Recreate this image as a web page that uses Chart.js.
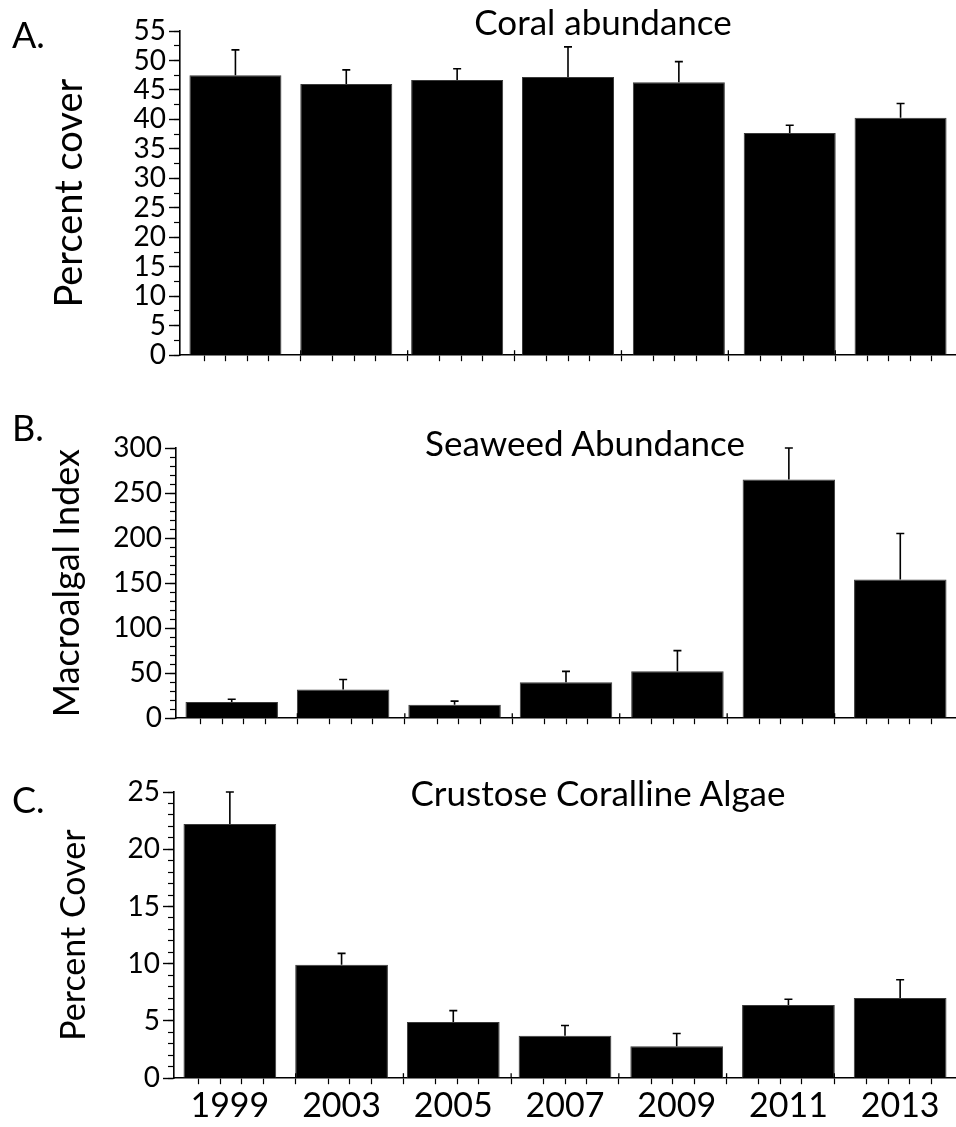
<!DOCTYPE html>
<html>
<head>
<meta charset="utf-8">
<script src="https://cdn.jsdelivr.net/npm/chart.js@4.4.1/dist/chart.umd.min.js"></script>
<style>
  body { margin: 0; background: #fff; }
  #page { position: relative; width: 956px; height: 1127px; overflow: hidden; font-family: Lato, "Open Sans", sans-serif; color: #000; }
  #page canvas { position: absolute; left: 0; }
  .tag { position: absolute; left: 12px; font-size: 36px; line-height: 36px; }
  .ttl { position: absolute; font-size: 35px; line-height: 35px; transform: translateX(-50%); white-space: nowrap; }
</style>
</head>
<body>
<div id="page">
  <canvas id="coral" width="956" height="375" style="top:0"></canvas>
  <canvas id="seaweed" width="956" height="363" style="top:375px"></canvas>
  <canvas id="cca" width="956" height="389" style="top:738px"></canvas>

  <div class="tag" style="top:16px">A.</div>
  <div class="tag" style="top:409px">B.</div>
  <div class="tag" style="top:781px">C.</div>

  <div class="ttl" style="left:603px; top:4px">Coral abundance</div>
  <div class="ttl" style="left:585px; top:425px">Seaweed Abundance</div>
  <div class="ttl" style="left:598px; top:775px">Crustose Coralline Algae</div>
</div>

<script>
const years = ['1999', '2003', '2005', '2007', '2009', '2011', '2013'];

// means and standard errors
const coralCover = [47.5, 46.0, 46.7, 47.2, 46.3, 37.7, 40.3];
const coralSE = [4.3, 2.4, 1.9, 5.1, 3.5, 1.3, 2.4];
const seaweedIndex = [18, 32, 15, 40, 52, 265, 154];
const seaweedSE = [3, 11, 4, 12, 23, 35, 51];
const ccaCover = [22.2, 9.9, 4.9, 3.7, 2.8, 6.4, 7.0];
const ccaSE = [2.8, 1.0, 1.0, 0.9, 1.1, 0.5, 1.6];

// y axis: [max, labelled step, minor step]
const coralAxis = [55, 5, 2.5];
const seaweedAxis = [300, 50, 10];
const ccaAxis = [25, 5, 1];

// small x ticks inside each category
const xMinor = years.flatMap((_, i) => [-0.3, -0.1, 0.1, 0.3].map(d => i + d));

// upper error whisker with a short cap, plus little upward ticks between categories
const errorBars = {
    id: 'errorBars',
    afterDatasetsDraw(chart, args, opts) {
        const meta = chart.getDatasetMeta(0);
        const y = chart.scales.y;
        const xt = chart.scales.xt;
        const vals = chart.data.datasets[0].data;
        const ctx = chart.ctx;
        ctx.save();
        ctx.strokeStyle = '#000';
        ctx.lineWidth = 1.6;
        meta.data.forEach((bar, i) => {
            const top = y.getPixelForValue(vals[i] + opts.se[i]);
            ctx.beginPath();
            ctx.moveTo(bar.x, bar.y);
            ctx.lineTo(bar.x, top);
            ctx.moveTo(bar.x - 4, top);
            ctx.lineTo(bar.x + 4, top);
            ctx.stroke();
        });
        ctx.lineWidth = 1.3;
        const base = chart.chartArea.bottom;
        for (let i = 0; i < vals.length - 1; i++) {
            const px = xt.getPixelForValue(i + 0.5);
            ctx.beginPath();
            ctx.moveTo(px, base);
            ctx.lineTo(px, base - 5);
            ctx.stroke();
        }
        ctx.restore();
    }
};

function makePanel(id, values, se, axis, yTitle, titleSize, titlePad, pad, axisWidth, showYears) {
    const [yMax, major, minor] = axis;
    return new Chart(document.getElementById(id), {
        type: 'bar',
        data: {
            labels: years,
            datasets: [{
                data: values,
                backgroundColor: '#000',
                borderColor: '#3a3a3a',
                borderWidth: 1,
                barPercentage: 0.83,
                categoryPercentage: 1
            }]
        },
        options: {
            responsive: false,
            animation: false,
            layout: { padding: { top: pad[0], bottom: pad[1], left: 0, right: 0 } },
            plugins: {
                legend: { display: false },
                tooltip: { enabled: false },
                errorBars: { se: se }
            },
            scales: {
                x: {
                    display: showYears,
                    weight: 1,
                    grid: { display: false, drawTicks: false },
                    border: { display: false },
                    ticks: { color: '#000', font: { family: 'Lato', size: 34 }, padding: 1, maxRotation: 0 }
                },
                xt: {
                    type: 'linear',
                    position: 'bottom',
                    weight: 0,
                    min: -0.5,
                    max: 6.5,
                    afterBuildTicks: s => { s.ticks = xMinor.map(v => ({ value: v })); },
                    ticks: { display: false },
                    grid: { drawOnChartArea: false, tickLength: 6, color: '#000', tickWidth: 1.2 },
                    border: { color: '#000', width: 1.6 }
                },
                y: {
                    min: 0,
                    max: yMax,
                    weight: 1,
                    afterFit: s => { s.width = axisWidth; },
                    ticks: { stepSize: major, autoSkip: false, color: '#000', font: { family: 'Lato', size: 28 }, padding: 3 },
                    grid: { drawOnChartArea: false, tickLength: 11, color: '#000', tickWidth: 1.4 },
                    border: { color: '#000', width: 1.6 },
                    title: {
                        display: true,
                        text: yTitle,
                        color: '#000',
                        font: { family: 'Lato', size: titleSize },
                        padding: { top: titlePad, bottom: 0 }
                    }
                },
                yMinor: {
                    position: 'left',
                    min: 0,
                    max: yMax,
                    weight: 0,
                    afterFit: s => { s.width = 0; },
                    ticks: { display: false, stepSize: minor, autoSkip: false },
                    grid: { drawOnChartArea: false, tickLength: 6, color: '#000', tickWidth: 1.2 },
                    border: { display: false }
                }
            }
        },
        plugins: [errorBars]
    });
}

makePanel('coral', coralCover, coralSE, coralAxis, 'Percent cover', 38, 47, [31, 12], 180, false);
makePanel('seaweed', seaweedIndex, seaweedSE, seaweedAxis, 'Macroalgal Index', 36, 46, [73, 12], 176, false);
makePanel('cca', ccaCover, ccaSE, ccaAxis, 'Percent Cover', 34, 54, [54, 0], 174, true);
</script>
</body>
</html>
